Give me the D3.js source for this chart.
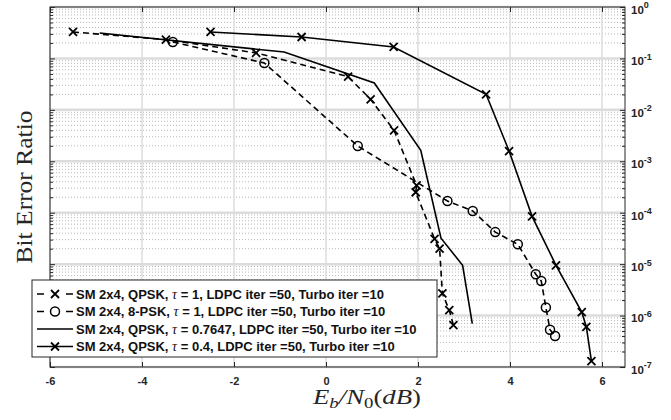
<!DOCTYPE html>
<html>
<head>
<meta charset="utf-8">
<script src="https://cdn.jsdelivr.net/npm/d3@7/dist/d3.min.js"></script>
<style>
body { margin: 0; background: #fff; }
.tick text { font-family: "Liberation Sans", Arial, sans-serif; font-weight: bold; font-size: 11px; fill: #262626; }
.domain { display: none; }
.tick line { stroke: #262626; }
</style>
</head>
<body>
<script>
// tick values
var xTicks = [-6, -4, -2, 0, 2, 4, 6];
var yTicks = [1e-7, 1e-6, 1e-5, 1e-4, 1e-3, 1e-2, 1e-1, 1];

// SM 2x4, QPSK, tau = 1
var qpsk1X = [-5.5, -3.48, -1.52, 0.48, 0.97, 1.48, 1.97, 1.95, 2.36, 2.47, 2.53, 2.68, 2.77];
var qpsk1Y = [0.327, 0.232, 0.128, 0.0442, 0.016, 0.004, 3.4e-4, 2.5e-4, 3.1e-5, 2.0e-5, 2.7e-6, 1.27e-6, 6.5e-7];
// SM 2x4, 8-PSK, tau = 1
var psk8X = [-3.33, -1.34, 0.69, 2.64, 3.19, 3.68, 4.17, 4.56, 4.68, 4.78, 4.87, 4.98];
var psk8Y = [0.209, 0.0815, 0.00198, 1.69e-4, 1.08e-4, 4.2e-5, 2.43e-5, 6.35e-6, 4.7e-6, 1.43e-6, 5.3e-7, 4.0e-7];
// SM 2x4, QPSK, tau = 0.7647
var qpsk2X = [-4.92, -0.91, 1.05, 2.06, 2.5, 2.97, 3.18];
var qpsk2Y = [0.312, 0.133, 0.0333, 1.64e-3, 3.2e-5, 9.5e-6, 7.0e-7];
// SM 2x4, QPSK, tau = 0.4
var qpsk3X = [-2.51, -0.53, 1.47, 3.48, 3.98, 4.48, 5.0, 5.56, 5.66, 5.77];
var qpsk3Y = [0.327, 0.261, 0.167, 0.0201, 1.58e-3, 8.5e-5, 9.5e-6, 1.17e-6, 6.0e-7, 1.3e-7];

var legendLabels = [
    ["SM 2x4, QPSK, ", " = 1, LDPC iter =50, Turbo iter =10"],
    ["SM 2x4, 8-PSK, ", " = 1, LDPC iter =50, Turbo iter =10"],
    ["SM 2x4, QPSK, ", " = 0.7647, LDPC iter =50, Turbo iter =10"],
    ["SM 2x4, QPSK, ", " = 0.4, LDPC iter =50, Turbo iter =10"]
];

var W = 671, H = 420;
var margin = {top: 7, right: 46, bottom: 53, left: 50};
var width = W - margin.left - margin.right,
    height = H - margin.top - margin.bottom;

var svg = d3.select("body").append("svg")
    .attr("width", W)
    .attr("height", H);

var g = svg.append("g")
    .attr("transform", "translate(" + margin.left + "," + margin.top + ")");

var x = d3.scaleLinear().domain([-6, 6.5]).range([0, width]);
var y = d3.scaleLog().domain([1e-7, 1]).range([height, 0]);

// minor log ticks
var minors = [];
for (var e = -7; e < 0; e++) {
    for (var m = 2; m <= 9; m++) minors.push(m * Math.pow(10, e));
}

// grid
g.selectAll(".minorGrid").data(minors).enter().append("line")
    .attr("class", "minorGrid")
    .attr("x1", 0).attr("x2", width)
    .attr("y1", function(d){ return y(d); }).attr("y2", function(d){ return y(d); })
    .attr("stroke", "#b8b8b8").attr("stroke-width", 1)
    .attr("stroke-dasharray", "1,2");

g.selectAll(".majorGridY").data(yTicks).enter().append("line")
    .attr("class", "majorGridY")
    .attr("x1", 0).attr("x2", width)
    .attr("y1", function(d){ return y(d); }).attr("y2", function(d){ return y(d); })
    .attr("stroke", "#dcdcdc").attr("stroke-width", 2.5);

g.selectAll(".majorGridX").data(xTicks).enter().append("line")
    .attr("class", "majorGridX")
    .attr("y1", 0).attr("y2", height)
    .attr("x1", function(d){ return x(d); }).attr("x2", function(d){ return x(d); })
    .attr("stroke", "#dcdcdc").attr("stroke-width", 1.5);

// axes
g.append("g")
    .attr("transform", "translate(0," + height + ")")
    .call(d3.axisBottom(x).tickValues(xTicks).tickSizeInner(-5).tickSizeOuter(0).tickPadding(10)
        .tickFormat(function(d){ return String(d); }));

g.append("g")
    .call(d3.axisTop(x).tickValues(xTicks).tickSizeInner(-5).tickSizeOuter(0).tickFormat(""));

g.append("g")
    .call(d3.axisLeft(y).tickValues(yTicks).tickSizeInner(-5).tickSizeOuter(0).tickFormat(""));
g.append("g")
    .call(d3.axisLeft(y).tickValues(minors).tickSizeInner(-3).tickSizeOuter(0).tickFormat(""));

var yRight = g.append("g")
    .attr("transform", "translate(" + width + ",0)")
    .call(d3.axisRight(y).tickValues(yTicks).tickSizeInner(-5).tickSizeOuter(0).tickPadding(6).tickFormat(""));
g.append("g")
    .attr("transform", "translate(" + width + ",0)")
    .call(d3.axisRight(y).tickValues(minors).tickSizeInner(-3).tickSizeOuter(0).tickFormat(""));

yRight.selectAll(".tick text").each(function(d){
    var t = d3.select(this).attr("dy", "0.55em").style("font-size", "11.5px");
    t.text("10");
    t.append("tspan")
        .attr("dy", "-0.6em")
        .style("font-size", "9px")
        .text(Math.round(Math.log10(d)));
});

// box
g.append("rect")
    .attr("width", width).attr("height", height)
    .attr("fill", "none").attr("stroke", "#262626").attr("stroke-width", 1);

// series
var series = [
    {xs: qpsk1X, ys: qpsk1Y, dash: "6,4", marker: "x"},
    {xs: psk8X, ys: psk8Y, dash: "6,4", marker: "o"},
    {xs: qpsk2X, ys: qpsk2Y, dash: null, marker: null},
    {xs: qpsk3X, ys: qpsk3Y, dash: null, marker: "x"}
];

var line = d3.line()
    .x(function(d){ return x(d[0]); })
    .y(function(d){ return y(d[1]); });

function drawMarker(sel, type, px, py) {
    if (type === "x") {
        sel.append("path")
            .attr("d", "M-4,-4L4,4M-4,4L4,-4")
            .attr("transform", "translate(" + px + "," + py + ")")
            .attr("stroke", "#000").attr("stroke-width", 1.8).attr("fill", "none");
    } else if (type === "o") {
        sel.append("circle")
            .attr("cx", px).attr("cy", py).attr("r", 4.5)
            .attr("stroke", "#000").attr("stroke-width", 1.5).attr("fill", "none");
    }
}

series.forEach(function(s){
    var pts = d3.zip(s.xs, s.ys);
    g.append("path")
        .datum(pts)
        .attr("d", line)
        .attr("fill", "none")
        .attr("stroke", "#000")
        .attr("stroke-width", 1.6)
        .attr("stroke-dasharray", s.dash);
    if (s.marker) {
        pts.forEach(function(p){ drawMarker(g, s.marker, x(p[0]), y(p[1])); });
    }
});

// legend
var leg = svg.append("g").attr("transform", "translate(32,280)");
leg.append("rect")
    .attr("width", 405).attr("height", 77)
    .attr("fill", "#fff").attr("stroke", "#262626").attr("stroke-width", 1);

series.forEach(function(s, i){
    var ly = 14 + i * 17.5;
    leg.append("line")
        .attr("x1", 5).attr("x2", 41).attr("y1", ly).attr("y2", ly)
        .attr("stroke", "#000").attr("stroke-width", 1.6)
        .attr("stroke-dasharray", s.dash ? "7,22" : null);
    drawMarker(leg, s.marker, 23, ly);
    var t = leg.append("text")
        .attr("x", 44).attr("y", ly + 4.5)
        .style("font-family", "'Liberation Sans', Arial, sans-serif")
        .style("font-weight", "bold")
        .style("font-size", "13px")
        .style("fill", "#111")
        .text(legendLabels[i][0]);
    t.append("tspan")
        .style("font-family", "'Liberation Serif', serif")
        .style("font-style", "italic")
        .style("font-weight", "normal")
        .style("font-size", "14px")
        .text("\u03c4");
    t.append("tspan").text(legendLabels[i][1]);
});

// axis labels
var xl = svg.append("text")
    .attr("x", 367).attr("y", 404)
    .attr("text-anchor", "middle")
    .attr("textLength", 108)
    .attr("lengthAdjust", "spacingAndGlyphs")
    .style("font-family", "'Liberation Serif', serif")
    .style("font-size", "20px")
    .style("fill", "#262626");
xl.append("tspan").style("font-style", "italic").text("E");
xl.append("tspan").style("font-style", "italic").style("font-size", "14px").attr("dy", 4).text("b");
xl.append("tspan").style("font-style", "italic").attr("dy", -4).text("/N");
xl.append("tspan").style("font-size", "14px").attr("dy", 4).text("0");
xl.append("tspan").attr("dy", -4).text("(");
xl.append("tspan").style("font-style", "italic").text("dB");
xl.append("tspan").text(")");

svg.append("text")
    .attr("transform", "translate(32," + (margin.top + height / 2) + ") rotate(-90)")
    .attr("text-anchor", "middle")
    .attr("textLength", 153)
    .attr("lengthAdjust", "spacingAndGlyphs")
    .style("font-family", "'Liberation Serif', serif")
    .style("font-size", "23px")
    .style("fill", "#262626")
    .text("Bit Error Ratio");
</script>
</body>
</html>
